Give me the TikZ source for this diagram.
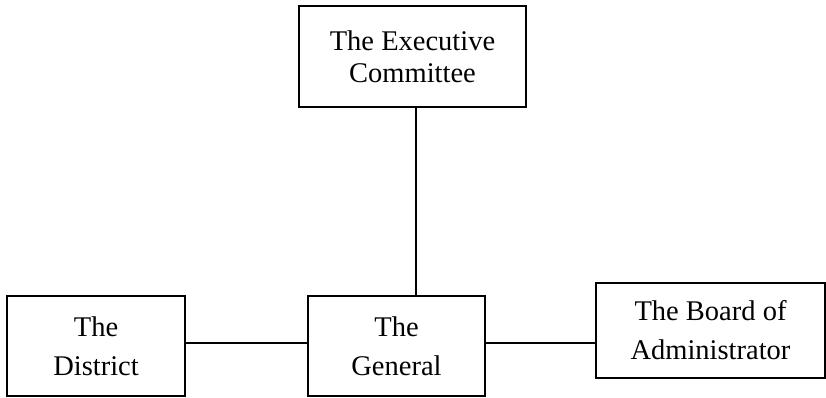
\documentclass[tikz,border=0pt]{standalone}
\usepackage{fontspec}
\setmainfont{Liberation Serif}
\begin{document}
\begin{tikzpicture}[x=1pt,y=-1pt,
  box/.style={draw,line width=1.5pt,rectangle,inner sep=0pt,align=center,
    font=\fontsize{28.5}{39}\selectfont},
  conn/.style={line width=1.5pt}]
\useasboundingbox (0,0) rectangle (826,397);
\node[box,minimum width=227pt,minimum height=101pt,font=\fontsize{28.5}{32}\selectfont] (top) at (412.5,56.5) {The Executive\\Committee};
\node[box,minimum width=178pt,minimum height=100pt] (left) at (96,346) {The\\District};
\node[box,minimum width=177pt,minimum height=100pt] (mid) at (396.5,346) {The\\General};
\node[box,minimum width=229pt,minimum height=95pt] (right) at (710.5,330.5) {The Board of\\Administrator};
\coordinate (vx) at (416,0);
\coordinate (hy) at (0,343);
\draw[conn] (top.south -| vx) -- (mid.north -| vx);
\draw[conn] (left.east |- hy) -- (mid.west |- hy);
\draw[conn] (mid.east |- hy) -- (right.west |- hy);
\end{tikzpicture}
\end{document}
